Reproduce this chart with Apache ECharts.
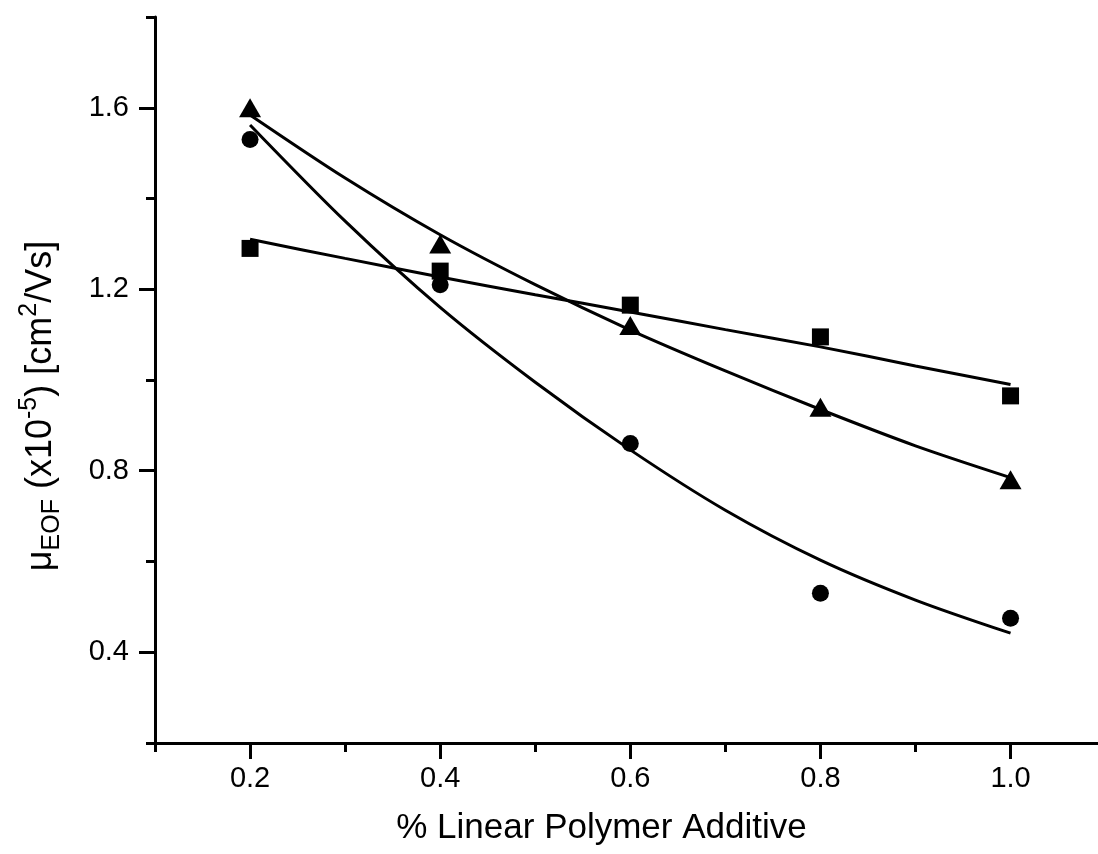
<!DOCTYPE html>
<html>
<head>
<meta charset="utf-8">
<script src="https://cdn.jsdelivr.net/npm/echarts@6/dist/echarts.min.js"></script>
<style>
  html, body { margin: 0; padding: 0; background: #fff; }
  #main { width: 1098px; height: 854px; }
</style>
</head>
<body>
<div id="main"></div>
<script>
var xPoints = [0.2, 0.4, 0.6, 0.8, 1.0];
var squares = [1.29, 1.24, 1.165, 1.095, 0.965];
var circles = [1.53, 1.21, 0.86, 0.53, 0.475];
var triangles = [1.60, 1.30, 1.12, 0.94, 0.78];

// fitted curves
var fitX = [0.2, 0.3, 0.4, 0.5, 0.6, 0.7, 0.8, 0.9, 1.0];
var squareFit = [1.31, 1.268, 1.227, 1.188, 1.15, 1.111, 1.073, 1.031, 0.99];
var circleFit = [1.562, 1.35, 1.16, 0.995, 0.846, 0.713, 0.603, 0.515, 0.442];
var triangleFit = [1.584, 1.445, 1.32, 1.21, 1.11, 1.02, 0.935, 0.855, 0.785];

// ticks
var xMajor = [0.2, 0.4, 0.6, 0.8, 1.0];
var xMinor = [0.1, 0.3, 0.5, 0.7, 0.9];
var yMajor = [0.4, 0.8, 1.2, 1.6];
var yMinor = [0.2, 0.6, 1.0, 1.4, 1.8];

var font = "'Liberation Sans', Arial, sans-serif";

function pairs(xs, ys) {
  return xs.map(function (x, i) { return [x, ys[i]]; });
}

var chart = echarts.init(document.getElementById("main"));

var lineAxis = { show: true, lineStyle: { color: "#000", width: 3 } };

function fitLine(name, ys) {
  return {
    name: name,
    type: "line",
    smooth: 0.3,
    showSymbol: false,
    lineStyle: { color: "#000", width: 3 },
    data: pairs(fitX, ys)
  };
}

function points(name, symbol, size, ys) {
  return {
    name: name,
    type: "scatter",
    symbol: symbol,
    symbolSize: size,
    itemStyle: { color: "#000", opacity: 1 },
    data: pairs(xPoints, ys)
  };
}

chart.setOption({
  backgroundColor: "#fff",
  animation: false,
  grid: { left: 155, right: 0, top: 17, bottom: 111 },
  xAxis: [
    {
      type: "value",
      position: "bottom",
      min: 0.1,
      max: 1.092,
      axisLine: lineAxis,
      splitLine: { show: false },
      axisTick: { show: true, inside: false, length: 16, customValues: xMajor, lineStyle: { color: "#000", width: 3 } },
      axisLabel: {
        customValues: xMajor,
        margin: 21,
        color: "#000",
        fontSize: 29,
        fontFamily: font,
        formatter: function (v) { return v.toFixed(1); }
      },
      name: "% Linear Polymer Additive",
      nameLocation: "middle",
      nameGap: 68,
      nameTextStyle: { color: "#000", fontSize: 35, fontFamily: font, padding: [0, 50, 0, 0] }
    },
    {
      type: "value",
      position: "bottom",
      min: 0.1,
      max: 1.092,
      axisLine: { show: false },
      splitLine: { show: false },
      axisTick: { show: true, inside: false, length: 9, customValues: xMinor, lineStyle: { color: "#000", width: 3 } },
      axisLabel: { show: false }
    }
  ],
  yAxis: [
    {
      type: "value",
      position: "left",
      min: 0.2,
      max: 1.8,
      axisLine: lineAxis,
      splitLine: { show: false },
      axisTick: { show: true, inside: false, length: 16, customValues: yMajor, lineStyle: { color: "#000", width: 3 } },
      axisLabel: {
        customValues: yMajor,
        margin: 26,
        color: "#000",
        fontSize: 29,
        fontFamily: font,
        formatter: function (v) { return v.toFixed(1); }
      },
      name: "{n|\u03bc}{sub|EOF}{n| (x10}{sup|-5}{n|) [cm}{sup|2}{n|/Vs]}",
      nameLocation: "middle",
      nameRotate: 90,
      nameGap: 90,
      nameTextStyle: {
        color: "#000",
        fontFamily: font,
        padding: [0, 52, 0, 0],
        rich: {
          n: { fontSize: 36, fontFamily: font, color: "#000", lineHeight: 48, verticalAlign: "middle" },
          sub: { fontSize: 25, fontFamily: font, color: "#000", verticalAlign: "bottom" },
          sup: { fontSize: 25, fontFamily: font, color: "#000", verticalAlign: "top" }
        }
      }
    },
    {
      type: "value",
      position: "left",
      min: 0.2,
      max: 1.8,
      axisLine: { show: false },
      splitLine: { show: false },
      axisTick: { show: true, inside: false, length: 9, customValues: yMinor, lineStyle: { color: "#000", width: 3 } },
      axisLabel: { show: false }
    }
  ],
  series: [
    fitLine("square fit", squareFit),
    fitLine("circle fit", circleFit),
    fitLine("triangle fit", triangleFit),
    points("squares", "rect", 17, squares),
    points("circles", "circle", 17, circles),
    points("triangles", "triangle", [22, 19], triangles)
  ]
});
</script>
</body>
</html>
